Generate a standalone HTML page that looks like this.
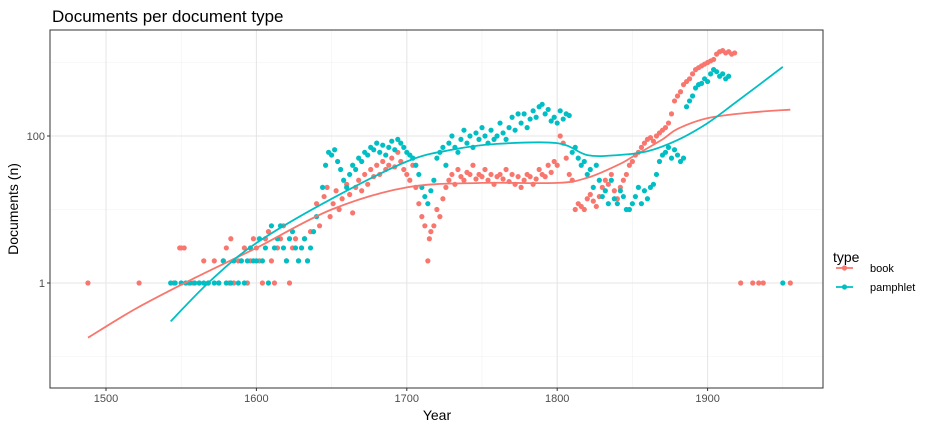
<!DOCTYPE html>
<html><head><meta charset="utf-8"><style>
body{margin:0;background:#fff;font-family:"Liberation Sans",sans-serif}
svg{display:block}
</style></head><body>
<svg id="chart" width="936" height="432"></svg>
<script>
const bookYear=[1488,1522,1545,1549,1550,1552,1555,1558,1562,1565,1568,1572,1575,1578,1580,1582,1583,1585,1588,1590,1592,1594,1596,1598,1600,1602,1604,1606,1608,1610,1612,1614,1616,1618,1620,1622,1624,1626,1628,1630,1632,1634,1636,1640,1642,1645,1647,1649,1651,1653,1655,1657,1660,1662,1664,1666,1668,1670,1672,1674,1676,1678,1680,1682,1684,1686,1688,1690,1692,1694,1696,1698,1700,1702,1704,1706,1708,1710,1712,1714,1715,1716,1718,1720,1722,1724,1726,1728,1730,1732,1734,1736,1738,1740,1742,1744,1746,1748,1750,1752,1754,1756,1758,1760,1762,1764,1766,1768,1770,1772,1774,1776,1778,1780,1782,1784,1786,1788,1790,1792,1794,1796,1798,1800,1802,1804,1806,1808,1810,1812,1814,1816,1818,1820,1822,1824,1826,1828,1830,1832,1834,1836,1838,1840,1842,1844,1846,1848,1850,1852,1854,1856,1858,1860,1862,1864,1866,1868,1870,1872,1874,1876,1878,1880,1882,1884,1886,1888,1890,1892,1894,1896,1898,1900,1902,1904,1906,1908,1910,1912,1914,1916,1918,1922,1930,1934,1937,1955];
const bookN=[1,1,1,3,3,3,1,1,1,2,1,2,1,2,3,1,4,1,2,2,3,1,2,4,3,2,1,4,5,2,1,3,4,6,2,1,3,4,2,3,4,2,5,12,6,15,20,8,12,18,10,14,22,16,9,20,25,18,30,22,35,28,40,30,45,35,40,50,38,60,45,35,30,25,40,20,12,8,6,2,4,5,6,10,8,14,20,25,30,22,35,28,25,32,30,40,26,30,28,35,25,30,22,28,30,26,35,24,30,22,28,20,25,30,28,22,26,35,30,28,40,32,45,40,100,80,50,30,25,10,12,11,10,14,16,13,11,15,20,25,22,30,18,14,20,25,30,40,45,55,60,70,80,90,95,85,100,110,120,130,150,200,300,350,400,500,550,600,700,800,850,900,950,1000,1050,1100,1300,1400,1450,1350,1400,1300,1350,1,1,1,1,1];
const pamYear=[1543,1546,1550,1553,1556,1559,1562,1565,1568,1572,1575,1578,1580,1583,1585,1588,1590,1592,1594,1596,1598,1600,1602,1604,1606,1608,1610,1612,1614,1616,1618,1620,1622,1624,1626,1628,1630,1632,1634,1636,1638,1640,1644,1646,1648,1650,1652,1654,1656,1658,1660,1662,1664,1666,1668,1670,1672,1674,1676,1678,1680,1682,1684,1686,1688,1690,1692,1694,1696,1698,1700,1702,1704,1706,1708,1710,1712,1714,1716,1718,1720,1722,1724,1726,1728,1730,1732,1734,1736,1738,1740,1742,1744,1746,1748,1750,1752,1754,1756,1758,1760,1762,1764,1766,1768,1770,1772,1774,1776,1778,1780,1782,1784,1786,1788,1790,1792,1794,1796,1798,1800,1802,1804,1806,1808,1810,1812,1814,1816,1818,1820,1822,1824,1826,1828,1830,1832,1834,1836,1838,1840,1842,1844,1846,1848,1850,1852,1854,1856,1858,1860,1862,1864,1866,1868,1870,1872,1874,1876,1878,1880,1882,1884,1886,1888,1890,1892,1894,1896,1898,1900,1902,1904,1906,1908,1910,1912,1914,1950];
const pamN=[1,1,1,1,1,1,1,1,1,1,1,2,1,1,2,1,2,1,2,3,2,2,4,2,3,1,6,3,4,6,3,2,4,5,3,2,3,4,2,3,5,8,20,40,60,55,65,45,35,25,20,30,40,35,50,45,60,55,70,65,80,60,75,55,70,85,65,90,80,70,60,55,50,40,30,20,15,12,18,25,50,60,70,40,80,100,70,60,90,120,80,100,70,110,90,130,100,80,120,90,100,150,110,90,130,180,120,200,150,200,130,170,220,180,250,270,200,230,160,180,150,220,170,200,190,60,70,50,40,45,30,35,20,40,25,15,18,12,25,14,12,18,15,10,10,12,15,20,12,18,14,20,22,30,45,55,60,70,50,65,55,45,50,250,300,350,450,500,520,600,550,700,800,750,650,700,600,650,1];
const bookFitYear=[1488,1520,1560,1600,1650,1700,1750,1800,1820,1840,1850,1870,1880,1900,1930,1955];
const bookFitN=[0.18,0.45,1.2,3,10,20,23,23,27,40,52,90,125,175,210,228];
const pamFitYear=[1543,1570,1600,1650,1700,1730,1760,1800,1820,1840,1860,1880,1900,1920,1950];
const pamFitN=[0.3,1.1,3.5,14,45,65,78,80,55,55,62,88,150,300,870];
const xTicks=[1500,1600,1700,1800,1900];
const yTicks=[1,100];

const NS="http://www.w3.org/2000/svg";
const svg=document.getElementById('chart');
const L=50,R=823,T=30,B=388;
const x=v=>106+(v-1500)*1.504;
const y=v=>283-Math.log10(v)*73.5;
function mk(tag,attrs,parent){const e=document.createElementNS(NS,tag);for(const k in attrs)e.setAttribute(k,attrs[k]);(parent||svg).appendChild(e);return e;}

const title=mk('text',{x:52,y:22,'font-size':17,fill:'#000'});title.textContent='Documents per document type';



const grid=mk('g',{});


[1550,1650,1750,1850,1950].forEach(v=>mk('line',{x1:x(v),x2:x(v),y1:T,y2:B,stroke:'#f2f2f2','stroke-width':0.6},grid));
[0.1,10,1000].forEach(v=>mk('line',{x1:L,x2:R,y1:y(v),y2:y(v),stroke:'#f2f2f2','stroke-width':0.6},grid));
xTicks.forEach(v=>mk('line',{x1:x(v),x2:x(v),y1:T,y2:B,stroke:'#e6e6e6','stroke-width':1.1},grid));
yTicks.forEach(v=>mk('line',{x1:L,x2:R,y1:y(v),y2:y(v),stroke:'#e6e6e6','stroke-width':1.1},grid));

const defs=mk('defs',{});const cp=mk('clipPath',{id:'cp'},defs);mk('rect',{x:L,y:T,width:R-L,height:B-T},cp);
const plot=mk('g',{'clip-path':'url(#cp)'});



const bk=mk('g',{fill:'#F8766D'},plot);


bookYear.forEach((yr,i)=>{const c=mk('circle',{cx:x(yr),cy:y(bookN[i]),r:2.6},bk);

});
const pm=mk('g',{fill:'#00BFC4'},plot);


pamYear.forEach((yr,i)=>{const c=mk('circle',{cx:x(yr),cy:y(pamN[i]),r:2.6},pm);

});

function line(xs,ns){
 const P=xs.map((v,i)=>[x(v),y(ns[i])]);
 let d='M'+P[0][0].toFixed(1)+','+P[0][1].toFixed(1);
 for(let i=0;i<P.length-1;i++){
  const p0=P[Math.max(0,i-1)],p1=P[i],p2=P[i+1],p3=P[Math.min(P.length-1,i+2)];
  const c1=[p1[0]+(p2[0]-p0[0])/6,p1[1]+(p2[1]-p0[1])/6];
  const c2=[p2[0]-(p3[0]-p1[0])/6,p2[1]-(p3[1]-p1[1])/6];
  d+='C'+c1[0].toFixed(1)+','+c1[1].toFixed(1)+' '+c2[0].toFixed(1)+','+c2[1].toFixed(1)+' '+p2[0].toFixed(1)+','+p2[1].toFixed(1);
 }
 return d;}
const bl=mk('path',{d:line(bookFitYear,bookFitN),fill:'none',stroke:'#F8766D','stroke-width':1.8},plot);


const pl=mk('path',{d:line(pamFitYear,pamFitN),fill:'none',stroke:'#00BFC4','stroke-width':1.8},plot);



const br=mk('rect',{x:L,y:T,width:R-L,height:B-T,fill:'none',stroke:'#333','stroke-width':1});



const xa=mk('g',{'font-size':11,fill:'#4d4d4d','text-anchor':'middle'});


xTicks.forEach(v=>{mk('line',{x1:x(v),x2:x(v),y1:B,y2:B+3,stroke:'#333'},xa);const t=mk('text',{x:x(v),y:B+14},xa);t.textContent=v;

});
const ya=mk('g',{'font-size':11,fill:'#4d4d4d','text-anchor':'end'});


yTicks.forEach(v=>{mk('line',{x1:L-3,x2:L,y1:y(v),y2:y(v),stroke:'#333'},ya);const t=mk('text',{x:L-5,y:y(v)+4},ya);t.textContent=v;

});
const xt=mk('text',{x:437,y:420,'font-size':14,'text-anchor':'middle',fill:'#000'});xt.textContent='Year';


const yt=mk('text',{x:0,y:0,'font-size':14,'text-anchor':'middle',fill:'#000',transform:'translate(18,209) rotate(-90)'});yt.textContent='Documents (n)';



const lg=mk('g',{});


const lt=mk('text',{x:833,y:262,'font-size':14,fill:'#000'},lg);lt.textContent='type';


[['book','#F8766D',268],['pamphlet','#00BFC4',287]].forEach(([n,c,yy])=>{
 const e=mk('g',{},lg);
 
 
 mk('line',{x1:836,x2:853,y1:yy,y2:yy,stroke:c,'stroke-width':1.8},e);
 mk('circle',{cx:844.5,cy:yy,r:2.6,fill:c},e);
 const t=mk('text',{x:870,y:yy+4,'font-size':11,fill:'#000'},e);t.textContent=n;
});
</script>
</body></html>
